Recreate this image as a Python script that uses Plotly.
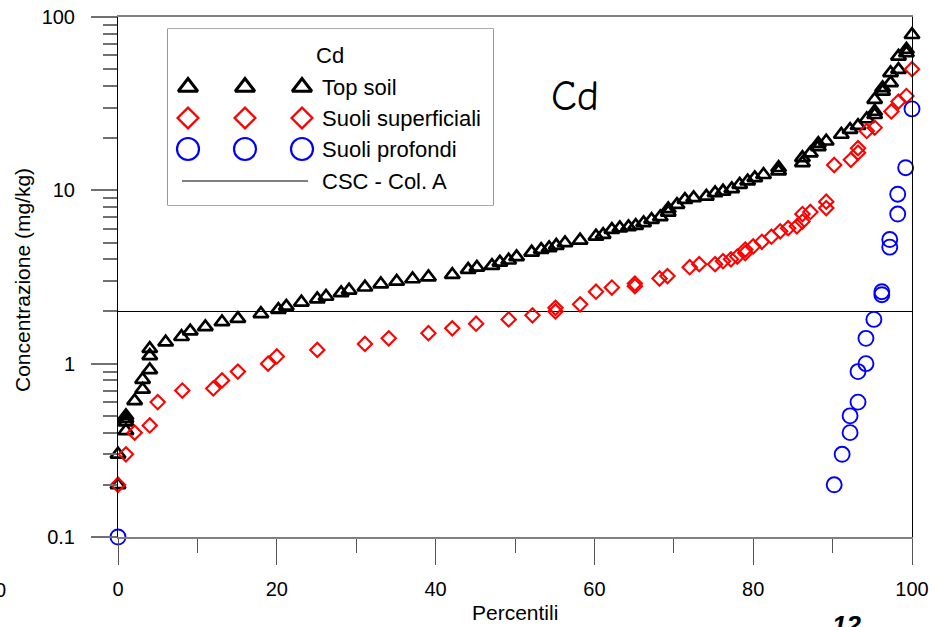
import plotly.graph_objects as go

# ---- data: percentile vs concentration (mg/kg) ----
top_x = [0, 0, 1.0, 1.0, 1.0, 1.0, 2.1, 3.1, 3.1, 4.0, 4.0, 4.0, 6.0, 8.0, 9.1, 11.0, 13.1, 15.1, 18.0,
         20.2, 21.2, 23.1, 25.1, 26.2, 28.1, 29.1, 31.1, 33.1, 35.1, 37.1, 39.1, 42.1, 44.1, 45.2, 47.1,
         48.1, 49.2, 50.2, 52.1, 53.3, 54.3, 55.2, 56.3, 58.2, 60.2, 61.1, 62.2, 63.2, 64.3, 65.2, 66.2,
         67.2, 68.3, 69.3, 69.3, 70.4, 71.4, 72.5, 74.1, 75.2, 76.2, 77.3, 78.3, 79.3, 80.2, 81.3, 83.2,
         83.2, 86.2, 86.2, 87.2, 88.2, 88.2, 89.2, 91.1, 92.2, 93.2, 94.3, 95.3, 95.3, 95.3, 96.3, 96.3,
         97.3, 97.3, 98.3, 98.3, 99.3, 99.3, 100]
top_y = [0.2, 0.3, 0.41, 0.46, 0.5, 0.48, 0.61, 0.71, 0.81, 0.92, 1.11, 1.22, 1.33, 1.43, 1.54, 1.63,
         1.74, 1.82, 1.94, 2.05, 2.14, 2.26, 2.36, 2.44, 2.56, 2.65, 2.76, 2.88, 2.98, 3.08, 3.16, 3.26,
         3.49, 3.59, 3.68, 3.84, 3.95, 4.13, 4.39, 4.55, 4.65, 4.8, 4.97, 5.15, 5.43, 5.55, 5.93, 6.06,
         6.15, 6.26, 6.49, 6.78, 7.02, 7.47, 7.81, 8.27, 8.84, 9.04, 9.23, 9.66, 9.87, 10.2, 10.8, 11.3,
         11.8, 12.3, 12.9, 13.5, 14.4, 15.4, 16.4, 17.8, 18.6, 19.2, 21.0, 22.4, 23.6, 25.8, 27.3, 28.5,
         33.4, 37.2, 39.0, 41.7, 47.6, 49.7, 59.3, 62.0, 64.9, 79.0]

sup_x = [0, 1.0, 2.1, 4.0, 5.0, 8.1, 12.0, 13.1, 15.1, 18.9, 20.0, 25.1, 31.1, 34.1, 39.1, 42.1, 45.1,
         49.2, 52.2, 55.1, 55.1, 58.2, 60.2, 62.2, 65.1, 65.1, 68.2, 69.2, 72.0, 73.2, 75.2, 76.2, 77.2,
         78.0, 79.0, 79.0, 80.0, 81.1, 82.3, 83.4, 84.4, 85.5, 86.2, 86.2, 87.2, 89.2, 89.2, 90.2, 92.3,
         93.2, 93.2, 94.3, 95.3, 97.4, 98.3, 99.3, 100]
sup_y = [0.2, 0.3, 0.4, 0.44, 0.6, 0.7, 0.72, 0.8, 0.9, 1.0, 1.1, 1.2, 1.3, 1.4, 1.5, 1.6, 1.7, 1.8,
         1.9, 2.1, 2.0, 2.2, 2.6, 2.75, 2.9, 2.8, 3.1, 3.2, 3.6, 3.75, 3.75, 3.9, 4.0, 4.15, 4.55, 4.35,
         4.75, 5.05, 5.4, 5.8, 6.05, 6.2, 6.6, 7.3, 7.5, 8.6, 7.9, 14.0, 15.0, 16.5, 17.5, 22.0, 23.0,
         28.5, 32.5, 35.0, 50.0]

prof_x = [0, 90.2, 91.2, 92.2, 92.2, 93.2, 93.2, 94.2, 94.2, 95.2, 96.2, 96.2, 97.2, 97.2, 98.2, 98.2,
          99.2, 100]
prof_y = [0.1, 0.2, 0.3, 0.4, 0.5, 0.6, 0.9, 1.0, 1.4, 1.8, 2.5, 2.6, 4.7, 5.2, 7.3, 9.5, 13.5, 29.5]

csc_limit = 2.0
csc_x = [0, 100]

x_major = [0, 20, 40, 60, 80, 100]
x_minor = [10, 30, 50, 70, 90]
y_major = [0.1, 1, 10, 100]
y_major_text = ["0.1", "1", "10", "100"]
y_minor = [m * d for d in (0.1, 1, 10) for m in range(2, 10)]

series_names = ["Top soil", "Suoli superficiali", "Suoli profondi", "CSC - Col. A"]

# ---- page geometry (pixels) ----
W, H = 948, 627
L, R, T, B = 118, 912, 17, 537
PW, PH = R - L, B - T


def px_x(p):
    return (p - L) / PW


def px_y(p):
    return (B - p) / PH


FONT = "Liberation Sans, Arial, sans-serif"
BLACK, RED, BLUE = "#000000", "#ff0000", "#0000ff"

fig = go.Figure()

fig.add_trace(go.Scatter(x=csc_x, y=[csc_limit] * len(csc_x), mode="lines",
                         line=dict(color=BLACK, width=1), showlegend=False, hoverinfo="skip"))
fig.add_trace(go.Scatter(x=top_x, y=top_y, mode="markers", name=series_names[0], cliponaxis=False,
                         marker=dict(symbol="triangle-up-open", size=13, color=BLACK,
                                     line=dict(width=2.7, color=BLACK)), showlegend=False))
fig.add_trace(go.Scatter(x=sup_x, y=sup_y, mode="markers", name=series_names[1], cliponaxis=False,
                         marker=dict(symbol="diamond-open", size=11, color=RED,
                                     line=dict(width=2.1, color=RED)), showlegend=False))
fig.add_trace(go.Scatter(x=prof_x, y=prof_y, mode="markers", name=series_names[2], cliponaxis=False,
                         marker=dict(symbol="circle-open", size=15, color=BLUE,
                                     line=dict(width=1.9, color=BLUE)), showlegend=False))

# ---- boxed legend with three marker samples per row (own small axes, pixel units) ----
LB_L, LB_R, LB_T, LB_B = 168, 493, 29, 205
lg_cols = [20, 77, 134]
lg_rows = [58, 89, 120, 152]
lg_styles = [
    dict(symbol="triangle-up-open", size=17, color=BLACK, line=dict(width=3, color=BLACK)),
    dict(symbol="diamond-open", size=16, color=RED, line=dict(width=2.3, color=RED)),
    dict(symbol="circle-open", size=22, color=BLUE, line=dict(width=2.2, color=BLUE)),
]
for row, style in zip(lg_rows[:3], lg_styles):
    fig.add_trace(go.Scatter(x=lg_cols, y=[row] * 3, mode="markers", marker=style, xaxis="x2", yaxis="y2",
                             cliponaxis=False, showlegend=False, hoverinfo="skip"))
fig.add_trace(go.Scatter(x=[14, 140], y=[lg_rows[3]] * 2, mode="lines", line=dict(color=BLACK, width=1),
                         xaxis="x2", yaxis="y2", showlegend=False, hoverinfo="skip"))

annotations = [
    dict(text="Cd", x=162, y=26, xref="x2", yref="y2", xanchor="center", yanchor="middle",
         showarrow=False, font=dict(family=FONT, size=22, color=BLACK)),
]
for row, label in zip(lg_rows, series_names):
    annotations.append(dict(text=label, x=152, y=row, xref="x2", yref="y2", xanchor="left",
                            yanchor="middle", showarrow=False,
                            font=dict(family=FONT, size=22, color=BLACK)))

annotations += [
    dict(text="Cd", x=px_x(575), y=px_y(96), xref="paper", yref="paper", xanchor="center",
         yanchor="middle", showarrow=False,
         font=dict(family="Comic Neue, Comic Sans MS, DejaVu Sans, sans-serif", size=42, color=BLACK)),
    dict(text="Percentili", x=px_x(515), y=px_y(612), xref="paper", yref="paper", xanchor="center",
         yanchor="middle", showarrow=False, font=dict(family=FONT, size=21, color=BLACK)),
    dict(text="Concentrazione (mg/kg)", x=px_x(22), y=px_y(280), xref="paper", yref="paper",
         xanchor="center", yanchor="middle", textangle=-90, showarrow=False,
         font=dict(family=FONT, size=21, color=BLACK)),
    dict(text="0", x=px_x(0), y=px_y(590), xref="paper", yref="paper", xanchor="center",
         yanchor="middle", showarrow=False, font=dict(family=FONT, size=20, color=BLACK)),
    dict(text="<b><i>12</i></b>", x=px_x(846), y=px_y(608), xref="paper", yref="paper",
         xanchor="center", yanchor="top", showarrow=False, font=dict(family=FONT, size=26, color=BLACK)),
]

fig.update_layout(
    width=W, height=H,
    margin=dict(l=L, r=W - R, t=T, b=H - B, pad=0, autoexpand=False),
    paper_bgcolor="white", plot_bgcolor="white",
    font=dict(family=FONT, size=20, color=BLACK),
    xaxis=dict(range=[0, 100], tickvals=x_major, ticktext=[str(v) for v in x_major],
               ticks="outside", ticklen=26, tickwidth=1.2, tickcolor="#555555",
               minor=dict(tickvals=x_minor, ticks="outside", ticklen=14, tickwidth=1.2,
                          tickcolor="#555555", showgrid=False),
               showline=True, linecolor="#808080", linewidth=2, mirror=True, automargin=False,
               showgrid=False, zeroline=False, ticklabelstandoff=7,
               tickfont=dict(family=FONT, size=20, color=BLACK)),
    yaxis=dict(type="log", range=[-1, 2], tickvals=y_major, ticktext=y_major_text,
               ticks="outside", ticklen=26, tickwidth=1.6, tickcolor="#707070",
               minor=dict(tickvals=y_minor, ticks="outside", ticklen=14, tickwidth=1.6,
                          tickcolor="#707070", showgrid=False),
               showline=True, linecolor=BLACK, linewidth=1, mirror=True, automargin=False,
               showgrid=False, zeroline=False, ticklabelstandoff=12,
               tickfont=dict(family=FONT, size=20, color=BLACK)),
    xaxis2=dict(domain=[px_x(LB_L), px_x(LB_R)], range=[0, LB_R - LB_L], anchor="y2",
                visible=False, fixedrange=True, automargin=False),
    yaxis2=dict(domain=[px_y(LB_B), px_y(LB_T)], range=[LB_B - LB_T, 0], anchor="x2",
                visible=False, fixedrange=True, automargin=False),
    shapes=[dict(type="rect", xref="paper", yref="paper", x0=px_x(LB_L), x1=px_x(LB_R),
                 y0=px_y(LB_B), y1=px_y(LB_T), line=dict(color="#555555", width=1.2),
                 fillcolor="white", layer="below")],
    annotations=annotations,
    showlegend=False,
)

fig.write_html("out.html")
